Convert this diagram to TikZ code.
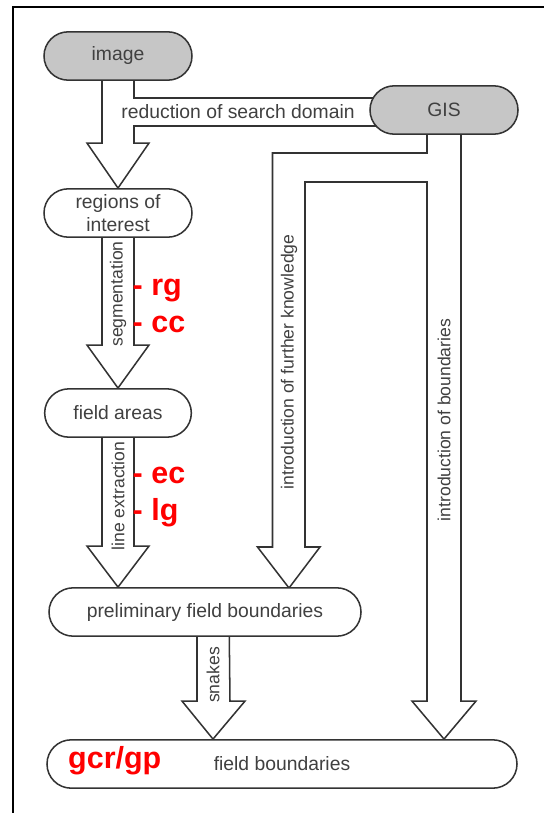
\documentclass[tikz,border=0pt]{standalone}
\usepackage{fontspec}
\setmainfont{Liberation Sans}
\usetikzlibrary{calc,shapes.misc,backgrounds}

\definecolor{linegray}{HTML}{333333}
\definecolor{textgray}{HTML}{404040}
\definecolor{boxgray}{HTML}{C6C6C6}

\begin{document}
\begin{tikzpicture}[x=0.03cm,y=-0.03cm,
		stage/.style={rounded rectangle, draw=linegray, line width=1.3pt, fill=white,
			minimum height=1.45cm, inner sep=0pt, text=textgray,
			font=\fontsize{16.5}{19}\selectfont},
		source/.style={stage, fill=boxgray},
		band/.style={draw=linegray, line width=1.3pt, fill=white, line join=miter},
		bandtext/.style={text=textgray, inner sep=0pt, font=\fontsize{16.5}{19}\selectfont},
		uptext/.style={bandtext, rotate=90, font=\fontsize{15}{17}\selectfont},
		method/.style={text=red, anchor=base west, inner sep=0pt,
			font=\fontsize{26}{30}\selectfont\bfseries}]
	\useasboundingbox (0,0) rectangle (544,813);
	
	% frame
	\draw[line width=1.6pt] (13,813) -- (13,7) -- (544,7);
	
	% stages
	\node[source, minimum width=4.44cm] (image) at (118,56) {image};
	\node[source, minimum width=4.44cm] (gis) at (444,110) {GIS};
	\node[stage, minimum width=4.44cm, align=center] (roi) at (118,213) {regions of\\interest};
	\node[stage, minimum width=4.4cm] (areas) at (118,413) {field areas};
	\node[stage, minimum width=9.36cm] (prelim) at (205,612) {preliminary field boundaries};
	\node[stage, minimum width=14.1cm] (fb) at (282,764) {field boundaries};
	
	% arrow tips and bends
	\coordinate (knowtip) at (289,588);
	\coordinate (snaketop) at ($(prelim.center)+(8,0)$);
	\coordinate (snaketip) at (snaketop |- fb.north);
	\coordinate (bndtip) at (gis.center |- fb.north);
	\coordinate (kbend) at (272.5,153);
	\coordinate (bbend) at (427,182);
	
	\begin{scope}[on background layer]
		% image -> regions of interest, with the GIS band
		\draw[band] ($(image.center)+(-16,0)$) -- ($(roi.north)+(-16,-45)$) -- ++(-15,0)
			-- (roi.north) -- ++(31,-45) -- ++(-15,0) |- ($(gis.center)+(0,16)$)
			-- ($(gis.center)+(0,-12)$) -| ($(image.center)+(16,0)$) -- cycle;
		% segmentation
		\draw[band] ($(roi.center)+(-16,0)$) -- ($(areas.north)+(-16,-43)$) -- ++(-15,0)
			-- (areas.north) -- ++(31,-43) -- ++(-15,0) -- ($(roi.center)+(16,0)$) -- cycle;
		% line extraction
		\draw[band] ($(areas.center)+(-16,0)$) -- ($(prelim.north -| areas.north)+(-16,-41)$) -- ++(-15,0)
			-- (prelim.north -| areas.north) -- ++(31,-41) -- ++(-15,0) -- ($(areas.center)+(16,0)$) -- cycle;
		% snakes
		\draw[band] ($(snaketop)+(-16,0)$) -- ($(snaketip)+(-16,-38)$) -- ++(-15,0)
			-- (snaketip) -- ++(32,-38) -- ++(-15,0) -- ($(snaketop)+(16,0)$) -- cycle;
		% GIS -> further knowledge and boundaries
		\draw[band] ($(gis.center)+(-17,0)$) |- (kbend) -- ($(knowtip)+(-16.5,-41)$) -- ++(-15,0)
			-- (knowtip) -- ++(31,-41) -- ++(-15,0) |- (bbend) -- ($(bndtip)+(-17,-38)$) -- ++(-15,0)
			-- (bndtip) -- ++(32,-38) -- ++(-15,0) -- ($(gis.center)+(17,0)$) -- cycle;
	\end{scope}
	
	% arrow texts
	\node[bandtext] (reduction) at (238,112) {reduction of search domain};
	\node[uptext] (segmentation) at (118,294) {segmentation};
	\node[uptext] (extraction) at (118,496) {line extraction};
	\node[uptext] (snakes) at (213,675) {snakes};
	\node[uptext] (knowledge) at (289,362) {introduction of further knowledge};
	\node[uptext] (boundaries) at (444,420) {introduction of boundaries};
	
	% methods
	\node[method] (rg) at (132.5,295) {- rg};
	\node[method] (cc) at (132.5,332) {- cc};
	\node[method] (ec) at (132.5,483) {- ec};
	\node[method] (lg) at (132.5,520) {- lg};
	\node[method] (gcr) at (68,768) {gcr/gp};
\end{tikzpicture}
\end{document}
